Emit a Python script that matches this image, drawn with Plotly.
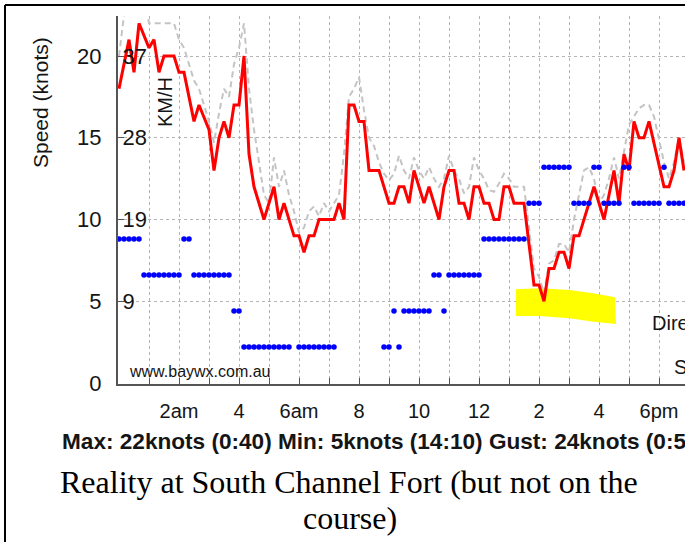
import plotly.graph_objects as go

# ---------------- data ----------------
# wind speed (knots), time in minutes after midnight
speed_min = [0, 20, 30, 40, 60, 70, 80, 90, 110, 120, 130, 150, 160, 180, 190, 200, 210, 220, 230, 240,
             250, 260, 270, 290, 310, 320, 330, 350, 360, 370, 380, 390, 400, 430, 440, 450, 460, 470, 480, 490,
             500, 520, 540, 550, 560, 570, 580, 590, 610, 620, 640, 650, 660, 670, 680, 690, 700, 710, 720, 730,
             740, 750, 760, 770, 780, 790, 810, 830, 840, 850, 860, 870, 880, 890, 900, 910, 920, 950, 970, 990,
             1000, 1010, 1020, 1030, 1040, 1050, 1060, 1090, 1100, 1110, 1120, 1130]
speed_kn = [18, 21, 19, 22, 20.5, 21, 19, 20, 20, 19, 19, 16, 17, 15.5, 13, 15, 16, 15, 17, 17,
            20, 14, 12, 10, 12, 10, 11, 9, 9, 8, 9, 9, 10, 10, 11, 10, 17, 17, 16, 16,
            13, 13, 11, 11, 12, 12, 11, 13, 11, 12, 10, 12, 13, 13, 11, 11, 10, 12, 12, 11,
            11, 10, 10, 12, 12, 11, 11, 6, 6, 5, 7, 7, 8, 8, 7, 9, 9, 12, 10, 13,
            11, 14, 13, 16, 15, 15, 16, 12, 12, 13, 15, 13]

# gusts (knots)
gust_min = [0, 10, 20, 30, 40, 50, 60, 70, 80, 90, 100, 110, 120, 130, 140, 150, 160, 170, 180, 190,
            200, 210, 220, 230, 240, 250, 260, 270, 280, 290, 300, 310, 320, 330, 340, 350, 360, 370, 380, 390,
            400, 410, 420, 430, 440, 450, 460, 470, 480, 490, 500, 510, 520, 530, 540, 550, 560, 570, 580, 590,
            600, 610, 620, 630, 640, 650, 660, 670, 680, 690, 700, 710, 720, 730, 740, 750, 760, 770, 780, 790,
            800, 810, 820, 830, 840, 850, 860, 870, 880, 890, 900, 910, 920, 930, 940, 950, 960, 970, 980, 990,
            1000, 1010, 1020, 1030, 1040, 1050, 1060, 1070, 1080, 1090, 1100, 1110, 1120, 1130]
gust_kn = [20, 22.5, 24, 24, 24, 24, 22, 22, 22, 22, 22, 22, 21, 20.5, 19.5, 18.5, 18, 17, 16, 14.7,
           16.5, 18, 17.5, 19.5, 20.5, 22, 18, 15.5, 13.5, 11.5, 11, 13.8, 12, 13, 11.5, 10.5, 9.2, 9.5, 10.5, 10.8,
           10.2, 11, 10.5, 11, 11.5, 14, 17.5, 18, 18.7, 16.7, 15, 14.5, 13.5, 12.8, 12.4, 12.8, 13.9, 13, 12.5, 13.8,
           13, 12.5, 13.2, 12.5, 12, 12.5, 13.9, 13, 12.5, 11.6, 12, 13.8, 13, 12.5, 11.8, 11.7, 12.2, 12.8, 12.5, 12,
           12, 12, 9.5, 7, 6.5, 5.5, 7.3, 7.5, 8.5, 8.5, 8, 10, 11.5, 13, 13.2, 12.5, 11, 11.5, 12.5, 13.8,
           12.5, 14.2, 15.8, 16.3, 16.8, 17, 17, 16.3, 15, 13.5, 12.5, 13.5, 15, 13.5]

# wind direction (sector index on the direction scale)
dir_min = [0, 10, 20, 30, 40, 50, 60, 70, 80, 90, 100, 110, 120, 130, 140, 150, 160, 170, 180, 190,
           200, 210, 220, 230, 240, 250, 260, 270, 280, 290, 300, 310, 320, 330, 340, 360, 370, 380, 390, 400,
           410, 420, 430, 530, 540, 550, 560, 570, 580, 590, 600, 610, 620, 630, 640, 650, 660, 670, 680, 690,
           700, 710, 720, 730, 740, 750, 760, 770, 780, 790, 800, 810, 820, 830, 840, 850, 860, 870, 880, 890,
           900, 910, 920, 930, 940, 950, 960, 970, 980, 990, 1000, 1010, 1020, 1030, 1040, 1050, 1060, 1070, 1080, 1090,
           1100, 1110, 1120, 1130]
dir_idx = [4, 4, 4, 4, 4, 3, 3, 3, 3, 3, 3, 3, 3, 4, 4, 3, 3, 3, 3, 3,
           3, 3, 3, 2, 2, 1, 1, 1, 1, 1, 1, 1, 1, 1, 1, 1, 1, 1, 1, 1,
           1, 1, 1, 1, 1, 2, 1, 2, 2, 2, 2, 2, 2, 3, 3, 2, 3, 3, 3, 3,
           3, 3, 3, 4, 4, 4, 4, 4, 4, 4, 4, 4, 5, 5, 5, 6, 6, 6, 6, 6,
           6, 5, 5, 5, 5, 6, 6, 5, 5, 5, 5, 6, 6, 5, 5, 5, 5, 5, 5, 6,
           5, 5, 5, 5]

# axis ticks
hour_ticks = [0, 1, 2, 3, 4, 5, 6, 7, 8, 9, 10, 11, 12, 13, 14, 15, 16, 17, 18]
hour_labels = ["", "", "2am", "", "4", "", "6am", "", "8", "", "10", "", "12", "", "2", "", "4", "", "6pm"]
knot_ticks = [0, 5, 10, 15, 20]
kmh_label_knots = [5, 10, 15, 20]
kmh_labels = ["9", "19", "28", "37"]

# yellow highlighter stroke (hours, knots)
hl_h = [13.23, 14.03, 15.03, 15.81, 16.53, 16.57, 15.81, 15.03, 14.03, 13.23]
hl_kn = [5.73, 5.79, 5.69, 5.49, 5.24, 3.61, 3.75, 3.96, 4.1, 4.1]

# ---------------- layout geometry ----------------
W, H = 685, 542
L, R, T, B = 118, 0, 16, 158
PW, PH = W - L - R, H - T - B
PX_PER_HOUR = 30.0
PX_PER_KNOT = 16.35
x_range = [-1 / PX_PER_HOUR, (PW - 1) / PX_PER_HOUR]
y_range = [-1 / PX_PER_KNOT, (PH - 1) / PX_PER_KNOT]
KMH = 1.852
DIR_STEP = 2.2


def pxx(p):
    return (p - L) / PW


def pxy(p):
    return (H - B - p) / PH


FONT = "Liberation Sans, Arial, Helvetica, sans-serif"
SERIF = "Liberation Serif, Times New Roman, serif"
TXT = "#151515"

fig = go.Figure()

fig.add_trace(go.Scatter(x=hl_h, y=hl_kn, fill="toself", fillcolor="#ffff00",
                         line=dict(width=0, color="#ffff00"), mode="lines",
                         hoverinfo="skip", showlegend=False))

fig.add_trace(go.Scatter(x=[m / 60 for m in gust_min], y=gust_kn, mode="lines",
                         line=dict(color="#c4c4c4", width=2, dash="6px,4px"),
                         name="Gust", showlegend=False))

fig.add_trace(go.Scatter(x=[m / 60 for m in speed_min], y=speed_kn, mode="lines",
                         line=dict(color="#ff0000", width=3),
                         name="Speed", showlegend=False))

fig.add_trace(go.Scatter(x=[m / 60 for m in dir_min], y=dir_idx, yaxis="y3", mode="markers",
                         marker=dict(color="#0000ff", size=5.5, line=dict(width=0)),
                         cliponaxis=False, name="Direction", showlegend=False))

fig.add_trace(go.Scatter(x=[], y=[], yaxis="y2", showlegend=False))

grid = dict(showgrid=True, gridcolor="#b4b4b4", gridwidth=1, griddash="3px,3px")

fig.update_layout(
    width=W, height=H,
    margin=dict(l=L, r=R, t=T, b=B, pad=0),
    paper_bgcolor="white", plot_bgcolor="white",
    font=dict(family=FONT, color=TXT),
    showlegend=False,
    xaxis=dict(range=x_range, tickvals=hour_ticks, ticktext=hour_labels,
               ticks="inside", ticklen=6, tickcolor="#555", tickwidth=1,
               showline=True, linecolor="#555", linewidth=2, zeroline=False,
               tickfont=dict(size=20, color=TXT), ticklabelstandoff=8, **grid),
    yaxis=dict(range=y_range, tickvals=knot_ticks,
               ticks="inside", ticklen=6, tickcolor="#555", tickwidth=1,
               showline=True, linecolor="#555", linewidth=2, zeroline=False,
               tickfont=dict(size=22, color=TXT), ticklabelstandoff=10, **grid),
    yaxis2=dict(range=[v * KMH for v in y_range], overlaying="y", side="left", anchor="x",
                tickvals=[k * KMH for k in kmh_label_knots], ticktext=kmh_labels,
                ticklabelposition="inside", ticks="inside", ticklen=6, tickcolor="#555",
                showgrid=False, zeroline=False, showline=False,
                tickfont=dict(size=22, color=TXT)),
    yaxis3=dict(range=[v / DIR_STEP for v in y_range], overlaying="y", visible=False),
)

ann = [
    dict(text="Speed (knots)", x=pxx(40), y=pxy(103), textangle=-90, font=dict(size=21)),
    dict(text="KM/H", x=pxx(165), y=pxy(102), textangle=-90, font=dict(size=20)),
    dict(text="www.baywx.com.au", x=pxx(127), y=pxy(371), xanchor="left", font=dict(size=16)),
    dict(text="Direction", x=pxx(650), y=pxy(323), xanchor="left", font=dict(size=20)),
    dict(text="Speed", x=pxx(672), y=pxy(367), xanchor="left", font=dict(size=20)),
    dict(text="<b>Max: 22knots (0:40) Min: 5knots (14:10) Gust: 24knots (0:50)</b>",
         x=pxx(60), y=pxy(441), xanchor="left", font=dict(size=22.6)),
    dict(text="Reality at South Channel Fort (but not on the", x=pxx(349), y=pxy(482),
         font=dict(size=32, family=SERIF, color="black")),
    dict(text="course)", x=pxx(350), y=pxy(518),
         font=dict(size=32, family=SERIF, color="black")),
]
for a in ann:
    a.setdefault("xanchor", "center")
    fig.add_annotation(xref="paper", yref="paper", yanchor="middle", showarrow=False, **a)

# photo frame
fig.add_shape(type="line", xref="paper", yref="paper", x0=pxx(5), x1=pxx(W + 5), y0=pxy(5), y1=pxy(5),
              line=dict(color="black", width=2))
fig.add_shape(type="line", xref="paper", yref="paper", x0=pxx(5), x1=pxx(5), y0=pxy(5), y1=pxy(H + 5),
              line=dict(color="black", width=2))

fig.write_html("out.html", config={"displayModeBar": False},
               post_script="document.body.style.margin='0';document.body.style.overflow='hidden';")
